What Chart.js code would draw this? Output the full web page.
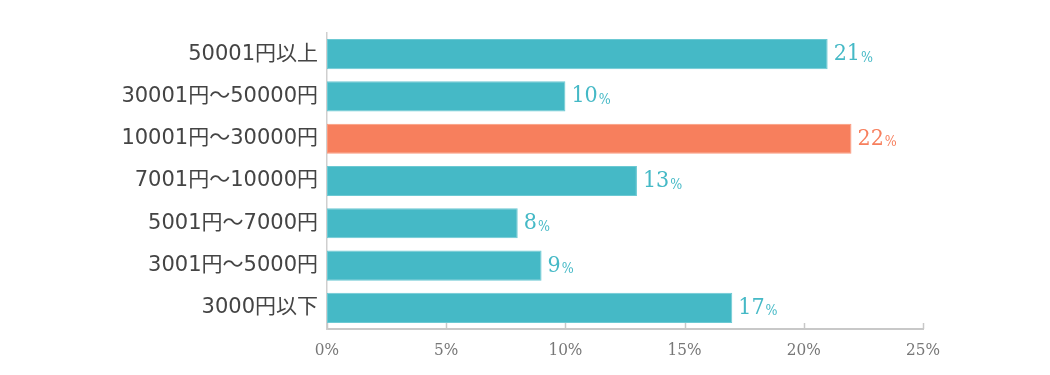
<!DOCTYPE html>
<html>
<head>
<meta charset="utf-8">
<script src="https://cdn.jsdelivr.net/npm/chart.js@4/dist/chart.umd.min.js"></script>
<style>
  html,body{margin:0;padding:0;background:#fff;}
</style>
</head>
<body>
<canvas id="chart" width="1050" height="375"></canvas>
<script>
// data
var categories=['50001円以上','30001円～50000円','10001円～30000円','7001円～10000円','5001円～7000円','3001円～5000円','3000円以下'];
var values=[21,10,22,13,8,9,17];
var highlight=[false,false,true,false,false,false,false];
var tickValues=[0,5,10,15,20,25];

var teal='#45B9C6',orange='#F77F5D';
var numFont='"DejaVu Serif Condensed","Liberation Serif",serif';

// small upward ticks on the x axis + value labels
var extras={
  id:'extras',
  afterDatasetsDraw:function(chart){
    var ctx=chart.ctx,x=chart.scales.x,area=chart.chartArea;
    ctx.save();
    ctx.strokeStyle='#c8c8c8';
    ctx.lineWidth=1.5;
    tickValues.forEach(function(v){
      var px=Math.round(x.getPixelForValue(v))+0.5;
      ctx.beginPath();
      ctx.moveTo(px,area.bottom);
      ctx.lineTo(px,area.bottom-6);
      ctx.stroke();
    });
    var meta=chart.getDatasetMeta(0);
    meta.data.forEach(function(bar,i){
      var col=highlight[i]?orange:teal;
      var num=String(values[i]);
      ctx.fillStyle=col;
      ctx.textBaseline='middle';
      ctx.textAlign='left';
      ctx.font='23px '+numFont;
      var w=ctx.measureText(num).width;
      ctx.fillText(num,bar.x+6,bar.y);
      ctx.font='14px '+numFont;
      ctx.fillText('%',bar.x+7+w,bar.y+4);
    });
    ctx.restore();
  }
};

new Chart(document.getElementById('chart'),{
  type:'bar',
  data:{
    labels:categories,
    datasets:[{
      data:values,
      backgroundColor:highlight.map(function(h){return h?orange:teal;}),
      borderColor:highlight.map(function(h){return h?'#fb9a7e':'#6cc9d3';}),
      borderWidth:1,
      borderSkipped:false,
      barPercentage:0.75,
      categoryPercentage:0.95
    }]
  },
  options:{
    indexAxis:'y',
    responsive:false,
    animation:false,
    devicePixelRatio:1,
    layout:{padding:{top:33,right:127,bottom:0,left:0}},
    plugins:{legend:{display:false},tooltip:{enabled:false}},
    scales:{
      x:{
        min:0,max:25,
        afterBuildTicks:function(s){s.ticks=tickValues.map(function(v){return {value:v};});},
        afterFit:function(s){s.height=46;},
        grid:{display:false,drawTicks:false},
        border:{display:true,color:'#c8c8c8',width:2},
        ticks:{
          color:'#777',
          padding:11,
          maxRotation:0,
          font:{family:numFont,size:17},
          callback:function(v){return v+'%';}
        }
      },
      y:{
        afterFit:function(s){s.width=327;},
        grid:{display:false,drawTicks:false},
        border:{display:true,color:'#cfcfcf',width:1.5},
        ticks:{
          color:'#444',
          padding:9,
          font:{family:'"DejaVu Sans","Noto Sans CJK JP",sans-serif',size:21}
        }
      }
    }
  },
  plugins:[extras]
});
</script>
</body>
</html>
